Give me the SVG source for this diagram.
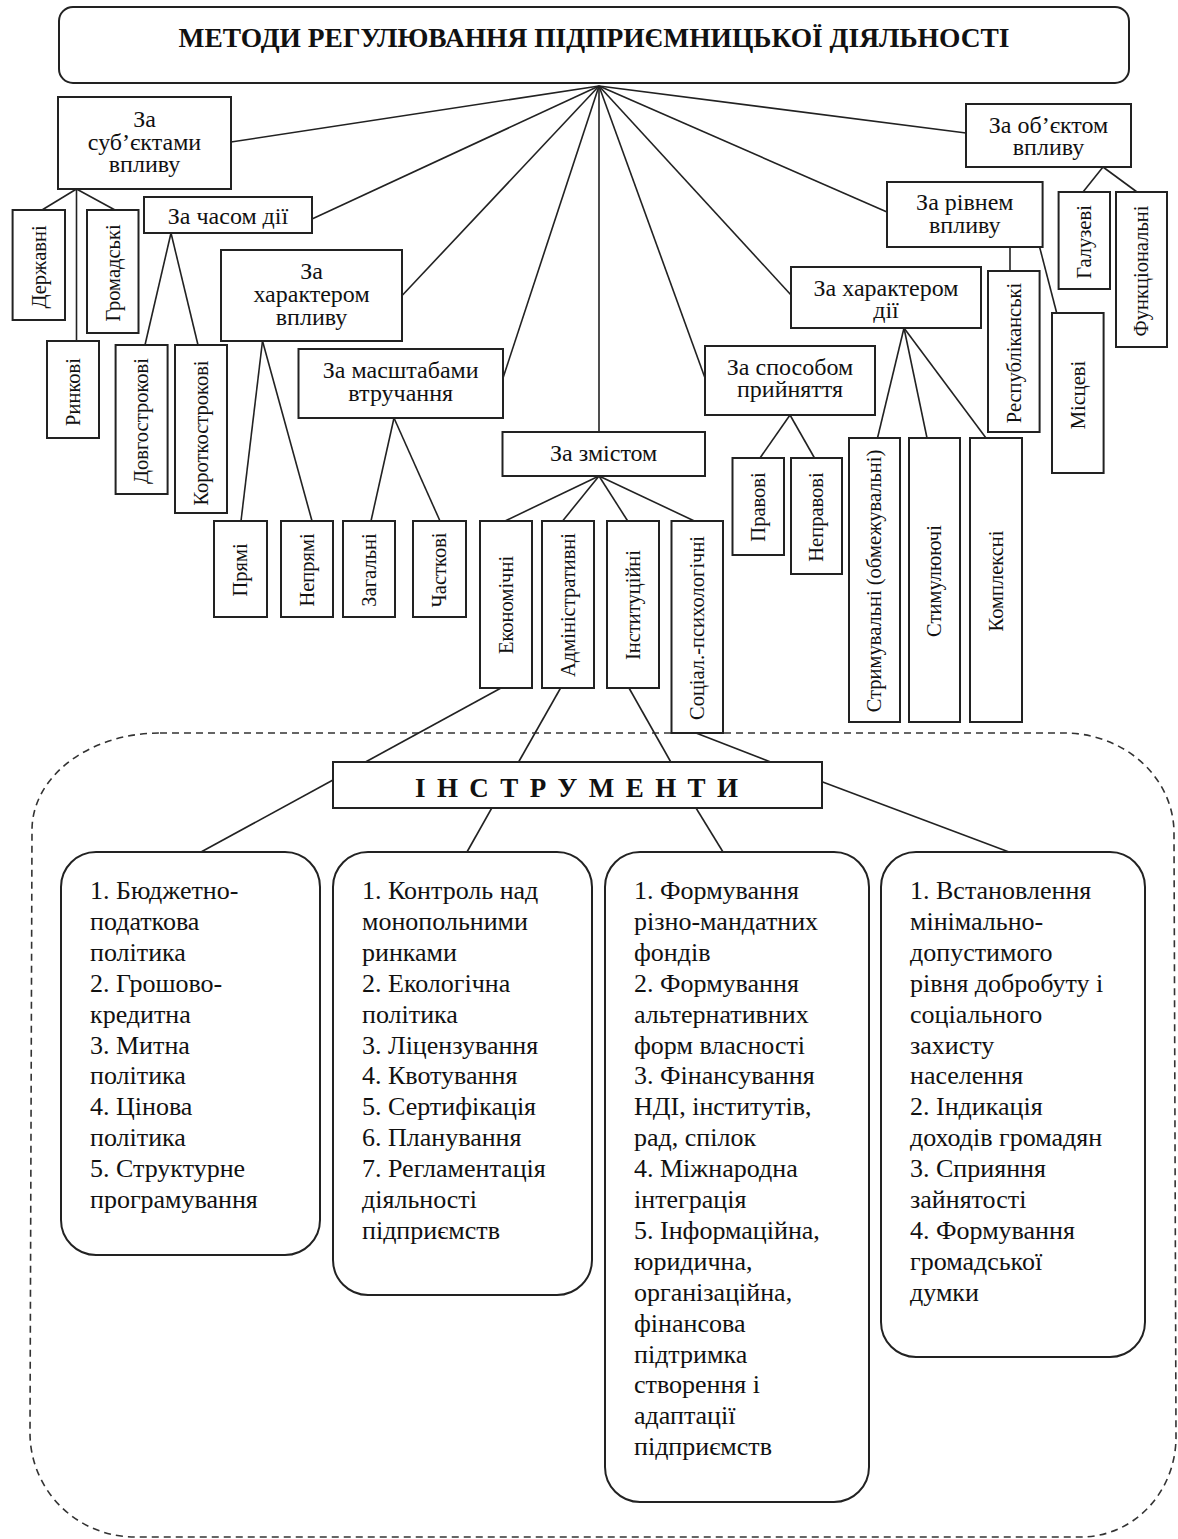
<svg xmlns="http://www.w3.org/2000/svg" width="1178" height="1539" viewBox="0 0 1178 1539">
<style>
.box{fill:#fff;stroke:#222;stroke-width:2}
.rb{fill:#fff;stroke:#222;stroke-width:2}
.ln{stroke:#222;stroke-width:1.6;fill:none}
.dash{stroke:#333;stroke-width:1.6;fill:none;stroke-dasharray:7 5}
text{font-family:"Liberation Serif","Times New Roman",serif;fill:#111}
.t{font-size:24px;text-anchor:middle}
.v{font-size:20.5px;text-anchor:middle}
.b{font-size:26px}
.h{font-size:27px;font-weight:bold;text-anchor:middle}
</style>
<rect width="1178" height="1539" fill="#fff"/>
<path id="region" class="dash" d="M160,733 L1064,733 A110,100 0 0 1 1174,833 L1176,1437 A95,100 0 0 1 1081,1537 L135,1537 A105,104 0 0 1 30,1433 L32,830 A128,97 0 0 1 160,733 Z"/>
<g id="connectors">
<line class="ln" x1="599" y1="86" x2="231" y2="142"/>
<line class="ln" x1="599" y1="86" x2="312" y2="219"/>
<line class="ln" x1="599" y1="86" x2="402.6" y2="295"/>
<line class="ln" x1="599" y1="86" x2="503" y2="378"/>
<line class="ln" x1="599" y1="86" x2="599" y2="432"/>
<line class="ln" x1="599" y1="86" x2="705" y2="378"/>
<line class="ln" x1="599" y1="86" x2="791" y2="295"/>
<line class="ln" x1="599" y1="86" x2="887" y2="212"/>
<line class="ln" x1="599" y1="86" x2="966" y2="133"/>
<line class="ln" x1="76.5" y1="189" x2="42" y2="210"/>
<line class="ln" x1="76.5" y1="189" x2="76.5" y2="341"/>
<line class="ln" x1="76.5" y1="189" x2="115" y2="210"/>
<line class="ln" x1="171" y1="233" x2="145" y2="345"/>
<line class="ln" x1="171" y1="233" x2="198" y2="345"/>
<line class="ln" x1="262.5" y1="341" x2="241" y2="521"/>
<line class="ln" x1="262.5" y1="341" x2="312" y2="521"/>
<line class="ln" x1="394" y1="418" x2="371" y2="521"/>
<line class="ln" x1="394" y1="418" x2="440" y2="521"/>
<line class="ln" x1="599" y1="476" x2="505" y2="521"/>
<line class="ln" x1="599" y1="476" x2="562.6" y2="521"/>
<line class="ln" x1="599" y1="476" x2="627.7" y2="521"/>
<line class="ln" x1="599" y1="476" x2="694.4" y2="521"/>
<line class="ln" x1="790" y1="415" x2="760" y2="458"/>
<line class="ln" x1="790" y1="415" x2="814.5" y2="458"/>
<line class="ln" x1="904" y1="328" x2="877.5" y2="438"/>
<line class="ln" x1="904" y1="328" x2="927" y2="438"/>
<line class="ln" x1="904" y1="328" x2="986" y2="438"/>
<line class="ln" x1="1010" y1="247" x2="1010" y2="271"/>
<line class="ln" x1="1039.6" y1="247" x2="1056.7" y2="313"/>
<line class="ln" x1="1103" y1="167" x2="1083" y2="192"/>
<line class="ln" x1="1103" y1="167" x2="1137" y2="192"/>
<line class="ln" x1="501" y1="688" x2="365.5" y2="762"/>
<line class="ln" x1="560.6" y1="688" x2="518.6" y2="762"/>
<line class="ln" x1="629" y1="688" x2="670.8" y2="762"/>
<line class="ln" x1="696" y1="733" x2="770.7" y2="762"/>
<line class="ln" x1="333" y1="780" x2="201" y2="852"/>
<line class="ln" x1="491.8" y1="808" x2="467" y2="852"/>
<line class="ln" x1="696" y1="808" x2="723" y2="852"/>
<line class="ln" x1="822" y1="781.7" x2="1009" y2="852"/>
</g>
<g id="title">
<rect class="rb" x="59" y="7" width="1070" height="76" rx="14"/>
<text class="h" x="594" y="47" textLength="831" lengthAdjust="spacingAndGlyphs">МЕТОДИ РЕГУЛЮВАННЯ ПІДПРИЄМНИЦЬКОЇ ДІЯЛЬНОСТІ</text>
</g>
<g id="n-subj">
<rect class="box" x="58" y="97" width="173" height="92"/>
<text class="t" x="144.5" y="127">За</text>
<text class="t" x="144.5" y="150">суб’єктами</text>
<text class="t" x="144.5" y="172">впливу</text>
</g>
<g id="n-time">
<rect class="box" x="144" y="197" width="168" height="36"/>
<text class="t" x="228" y="224">За часом дії</text>
</g>
<g id="n-charinfl">
<rect class="box" x="221" y="250" width="181" height="91"/>
<text class="t" x="311.5" y="279">За</text>
<text class="t" x="311.5" y="302">характером</text>
<text class="t" x="311.5" y="325">впливу</text>
</g>
<g id="n-scale">
<rect class="box" x="298.5" y="349" width="204.5" height="69"/>
<text class="t" x="400.7" y="378">За масштабами</text>
<text class="t" x="400.7" y="401">втручання</text>
</g>
<g id="n-content">
<rect class="box" x="502.5" y="432" width="202.5" height="44"/>
<text class="t" x="603.7" y="461">За змістом</text>
</g>
<g id="n-method">
<rect class="box" x="705" y="346" width="170" height="69"/>
<text class="t" x="790" y="375">За способом</text>
<text class="t" x="790" y="397">прийняття</text>
</g>
<g id="n-charact">
<rect class="box" x="791" y="267" width="190" height="61"/>
<text class="t" x="886" y="296">За характером</text>
<text class="t" x="886" y="318">дії</text>
</g>
<g id="n-level">
<rect class="box" x="887" y="182" width="155.6" height="65"/>
<text class="t" x="964.8" y="210">За рівнем</text>
<text class="t" x="964.8" y="233">впливу</text>
</g>
<g id="n-object">
<rect class="box" x="966" y="104" width="165" height="63"/>
<text class="t" x="1048.5" y="133">За об’єктом</text>
<text class="t" x="1048.5" y="155">впливу</text>
</g>
<g id="v-derzh"><rect class="box" x="12.6" y="210" width="52.4" height="110"/><text class="v" transform="translate(45.5,267) rotate(-90)">Державні</text></g>
<g id="v-gromad"><rect class="box" x="87" y="210" width="51.5" height="123"/><text class="v" transform="translate(119.5,273) rotate(-90)">Громадські</text></g>
<g id="v-rynk"><rect class="box" x="47" y="341" width="52" height="97"/><text class="v" transform="translate(79.5,392) rotate(-90)">Ринкові</text></g>
<g id="v-dovg"><rect class="box" x="115.6" y="345" width="52" height="149"/><text class="v" transform="translate(148,421) rotate(-90)">Довгострокові</text></g>
<g id="v-korot"><rect class="box" x="175" y="345" width="52" height="168"/><text class="v" transform="translate(207.5,433) rotate(-90)">Короткострокові</text></g>
<g id="v-priami"><rect class="box" x="214" y="521" width="53" height="96"/><text class="v" transform="translate(247,570) rotate(-90)">Прямі</text></g>
<g id="v-nepriami"><rect class="box" x="281" y="521" width="52" height="96"/><text class="v" transform="translate(313.5,570) rotate(-90)">Непрямі</text></g>
<g id="v-zag"><rect class="box" x="343" y="521" width="52" height="96"/><text class="v" transform="translate(375.5,570) rotate(-90)">Загальні</text></g>
<g id="v-chast"><rect class="box" x="413" y="521" width="53" height="96"/><text class="v" transform="translate(446,570) rotate(-90)">Часткові</text></g>
<g id="v-ekon"><rect class="box" x="480" y="521" width="52" height="167"/><text class="v" transform="translate(512.5,605) rotate(-90)">Економічні</text></g>
<g id="v-adm"><rect class="box" x="542" y="521" width="52" height="167"/><text class="v" transform="translate(574.5,605) rotate(-90)">Адміністративні</text></g>
<g id="v-inst"><rect class="box" x="607" y="521" width="52" height="167"/><text class="v" transform="translate(639.5,605) rotate(-90)">Інституційні</text></g>
<g id="v-soc"><rect class="box" x="671.5" y="521" width="51.5" height="212"/><text class="v" transform="translate(704,628) rotate(-90)">Соціал.-психологічні</text></g>
<g id="v-prav"><rect class="box" x="732.5" y="458" width="51.5" height="97"/><text class="v" transform="translate(765,507) rotate(-90)">Правові</text></g>
<g id="v-neprav"><rect class="box" x="791" y="458" width="51" height="116"/><text class="v" transform="translate(823,517) rotate(-90)">Неправові</text></g>
<g id="v-strym"><rect class="box" x="849" y="438" width="51" height="284"/><text class="v" transform="translate(881,581) rotate(-90)">Стримувальні (обмежувальні)</text></g>
<g id="v-stym"><rect class="box" x="909" y="438" width="51" height="284"/><text class="v" transform="translate(941,581) rotate(-90)">Стимулюючі</text></g>
<g id="v-kompl"><rect class="box" x="970" y="438" width="52" height="284"/><text class="v" transform="translate(1002.5,581) rotate(-90)">Комплексні</text></g>
<g id="v-resp"><rect class="box" x="988" y="271" width="51.6" height="161"/><text class="v" transform="translate(1020.5,353) rotate(-90)">Республіканські</text></g>
<g id="v-mists"><rect class="box" x="1052" y="313" width="51.6" height="160"/><text class="v" transform="translate(1084.5,395) rotate(-90)">Місцеві</text></g>
<g id="v-galuz"><rect class="box" x="1058.6" y="192" width="51.4" height="97"/><text class="v" transform="translate(1091,242) rotate(-90)">Галузеві</text></g>
<g id="v-funk"><rect class="box" x="1116" y="192" width="51" height="155"/><text class="v" transform="translate(1148,271) rotate(-90)">Функціональні</text></g>
<g id="n-instr">
<rect class="box" x="333" y="762" width="489" height="46"/>
<text class="h" x="576.5" y="797" textLength="323" lengthAdjust="spacing">І Н С Т Р У М Е Н Т И</text>
</g>
<g id="b-ekon">
<rect class="rb" x="61" y="852" width="259" height="403" rx="35"/>
<text class="b" x="90" y="899">1. Бюджетно-</text>
<text class="b" x="90" y="929.9">податкова</text>
<text class="b" x="90" y="960.8">політика</text>
<text class="b" x="90" y="991.7">2. Грошово-</text>
<text class="b" x="90" y="1022.6">кредитна</text>
<text class="b" x="90" y="1053.5">3. Митна</text>
<text class="b" x="90" y="1084.4">політика</text>
<text class="b" x="90" y="1115.3">4. Цінова</text>
<text class="b" x="90" y="1146.2">політика</text>
<text class="b" x="90" y="1177.1">5. Структурне</text>
<text class="b" x="90" y="1208">програмування</text>
</g>
<g id="b-adm">
<rect class="rb" x="333" y="852" width="259" height="443" rx="35"/>
<text class="b" x="362" y="899">1. Контроль над</text>
<text class="b" x="362" y="929.9">монопольними</text>
<text class="b" x="362" y="960.8">ринками</text>
<text class="b" x="362" y="991.7">2. Екологічна</text>
<text class="b" x="362" y="1022.6">політика</text>
<text class="b" x="362" y="1053.5">3. Ліцензування</text>
<text class="b" x="362" y="1084.4">4. Квотування</text>
<text class="b" x="362" y="1115.3">5. Сертифікація</text>
<text class="b" x="362" y="1146.2">6. Планування</text>
<text class="b" x="362" y="1177.1">7. Регламентація</text>
<text class="b" x="362" y="1208">діяльності</text>
<text class="b" x="362" y="1238.9">підприємств</text>
</g>
<g id="b-inst">
<rect class="rb" x="605" y="852" width="264" height="650" rx="35"/>
<text class="b" x="634" y="899">1. Формування</text>
<text class="b" x="634" y="929.9">різно-мандатних</text>
<text class="b" x="634" y="960.8">фондів</text>
<text class="b" x="634" y="991.7">2. Формування</text>
<text class="b" x="634" y="1022.6">альтернативних</text>
<text class="b" x="634" y="1053.5">форм власності</text>
<text class="b" x="634" y="1084.4">3. Фінансування</text>
<text class="b" x="634" y="1115.3">НДІ, інститутів,</text>
<text class="b" x="634" y="1146.2">рад, спілок</text>
<text class="b" x="634" y="1177.1">4. Міжнародна</text>
<text class="b" x="634" y="1208">інтеграція</text>
<text class="b" x="634" y="1238.9">5. Інформаційна,</text>
<text class="b" x="634" y="1269.8">юридична,</text>
<text class="b" x="634" y="1300.7">організаційна,</text>
<text class="b" x="634" y="1331.6">фінансова</text>
<text class="b" x="634" y="1362.5">підтримка</text>
<text class="b" x="634" y="1393.4">створення і</text>
<text class="b" x="634" y="1424.3">адаптації</text>
<text class="b" x="634" y="1455.2">підприємств</text>
</g>
<g id="b-soc">
<rect class="rb" x="881" y="852" width="264" height="505" rx="35"/>
<text class="b" x="910" y="899">1. Встановлення</text>
<text class="b" x="910" y="929.9">мінімально-</text>
<text class="b" x="910" y="960.8">допустимого</text>
<text class="b" x="910" y="991.7">рівня добробуту і</text>
<text class="b" x="910" y="1022.6">соціального</text>
<text class="b" x="910" y="1053.5">захисту</text>
<text class="b" x="910" y="1084.4">населення</text>
<text class="b" x="910" y="1115.3">2. Індикація</text>
<text class="b" x="910" y="1146.2">доходів громадян</text>
<text class="b" x="910" y="1177.1">3. Сприяння</text>
<text class="b" x="910" y="1208">зайнятості</text>
<text class="b" x="910" y="1238.9">4. Формування</text>
<text class="b" x="910" y="1269.8">громадської</text>
<text class="b" x="910" y="1300.7">думки</text>
</g>
</svg>
